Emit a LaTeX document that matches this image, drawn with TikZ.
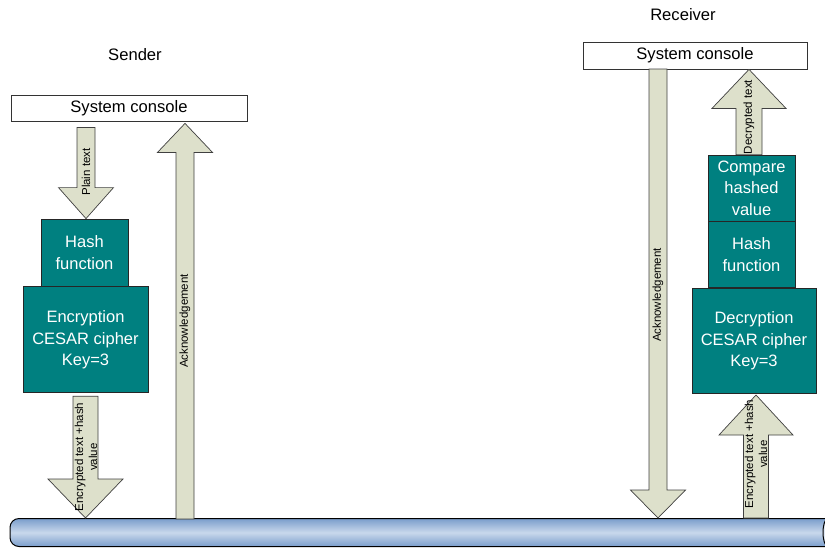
\documentclass[tikz,border=0pt]{standalone}
\usepackage{fontspec}
\setmainfont{Liberation Sans}
\usetikzlibrary{calc,positioning}
\definecolor{boxteal}{HTML}{008080}
\definecolor{arrowfill}{HTML}{DDE0CB}
\definecolor{pipelight}{HTML}{C9D8EC}
\definecolor{pipedark}{HTML}{7A9DCB}

% block arrow: [style] {tail} {tip} {shaft half width} {head half width} {head length}
\newcommand{\blockarrow}[6][]{%
  \draw[blockarr,#1] let \p1=#2, \p2=#3, \n1={ifthenelse(\y2>\y1,1,-1)} in
    (\x1-#4,\y1) -- (\x1-#4,{\y2-\n1*#6}) -- (\x1-#5,{\y2-\n1*#6}) -- (\x1,\y2)
    -- (\x1+#5,{\y2-\n1*#6}) -- (\x1+#4,{\y2-\n1*#6}) -- (\x1+#4,\y1) -- cycle;}

\begin{document}
\begin{tikzpicture}[x=1pt, y=-1pt,
  sidetitle/.style={font=\fontsize{16.6}{20}\selectfont, inner sep=0pt},
  consolebox/.style={rectangle, draw=black!80, line width=0.8pt, fill=white, minimum height=26pt, inner sep=0pt, font=\fontsize{16.6}{20}\selectfont},
  procbox/.style={rectangle, draw=black!85, line width=0.8pt, fill=boxteal, text=white, align=center, inner sep=0pt, font=\fontsize{16.5}{21.5}\selectfont},
  blockarr/.style={fill=arrowfill, draw=black!75, line width=0.7pt, line join=miter},
  arrlabel/.style={rotate=90, align=center, inner sep=0pt, font=\fontsize{11.5}{14}\selectfont},
  pipebody/.style={rectangle, draw=black, line width=1pt, rounded corners=9pt, minimum width=830pt, minimum height=28pt, top color=pipedark, bottom color=pipedark, middle color=pipelight}
]
  \useasboundingbox (0,0) rectangle (825,547);

  % network line
  \node[pipebody] (pipe) at (425,532.5) {};
  \draw[black, line width=1pt, fill=pipelight!60] ($(pipe.east)+(-13,0)$) ellipse [x radius=4.5, y radius=13.5];

  % sender side
  \node[sidetitle] (sender) at (135,55) {Sender};
  \node[consolebox, minimum width=236pt] (console1) at (129,108) {System console};
  \node[procbox, minimum width=87pt, minimum height=67pt] (hash1) at (84.5,252.5) {Hash\\function};
  \node[procbox, minimum width=125pt, minimum height=106pt, below=0pt of hash1, xshift=1pt] (enc1) {Encryption\\CESAR cipher\\Key=3};
  \coordinate (ackleft) at (185,519);

  % receiver side
  \node[sidetitle] (receiver) at (683,15) {Receiver};
  \node[consolebox, minimum width=224pt, minimum height=27pt] (console2) at (695,55.5) {System console};
  \node[procbox, minimum width=87pt, minimum height=66pt] (cmp2) at (751.5,188) {Compare\\hashed\\value};
  \node[procbox, minimum width=87pt, minimum height=66pt, below=0pt of cmp2] (hash2) {Hash\\function};
  \node[procbox, minimum width=124pt, minimum height=105pt, below=0pt of hash2, xshift=2.5pt] (dec2) {Decryption\\CESAR cipher\\Key=3};
  \coordinate (ackright) at (658,69);

  % arrows
  \blockarrow{([xshift=1.5pt, yshift=-6pt]hash1.north |- console1.south)}{([xshift=1.5pt]hash1.north)}{9pt}{27.5pt}{31pt}
  \blockarrow{([yshift=-3pt]enc1.south)}{(enc1.south |- pipe.north)}{12.5pt}{37.5pt}{39pt}
  \blockarrow{(ackleft)}{([yshift=-2pt]ackleft |- console1.south)}{9pt}{27.5pt}{29pt}
  \blockarrow{(ackright)}{(ackright |- pipe.north)}{9pt}{27.5pt}{28pt}
  \blockarrow{([xshift=-2.5pt]cmp2.north)}{([xshift=-2.5pt]cmp2.north |- console2.south)}{13pt}{37pt}{39pt}
  \blockarrow{([xshift=2pt]dec2.south |- pipe.north)}{([xshift=2pt, yshift=-1pt]dec2.south)}{12.5pt}{37pt}{40pt}

  % arrow labels
  \node[arrlabel] (lblplain) at (86,172) {Plain text};
  \node[arrlabel] (lblenc1) at (86,457) {Encrypted text +hash\\value};
  \node[arrlabel] (lblack1) at (185,321) {Acknowledgement};
  \node[arrlabel] (lblack2) at (658,295) {Acknowledgement};
  \node[arrlabel] (lbldec) at (749,117) {Decrypted text};
  \node[arrlabel] (lblenc2) at (756,454) {Encrypted text +hash\\value};
\end{tikzpicture}
\end{document}
